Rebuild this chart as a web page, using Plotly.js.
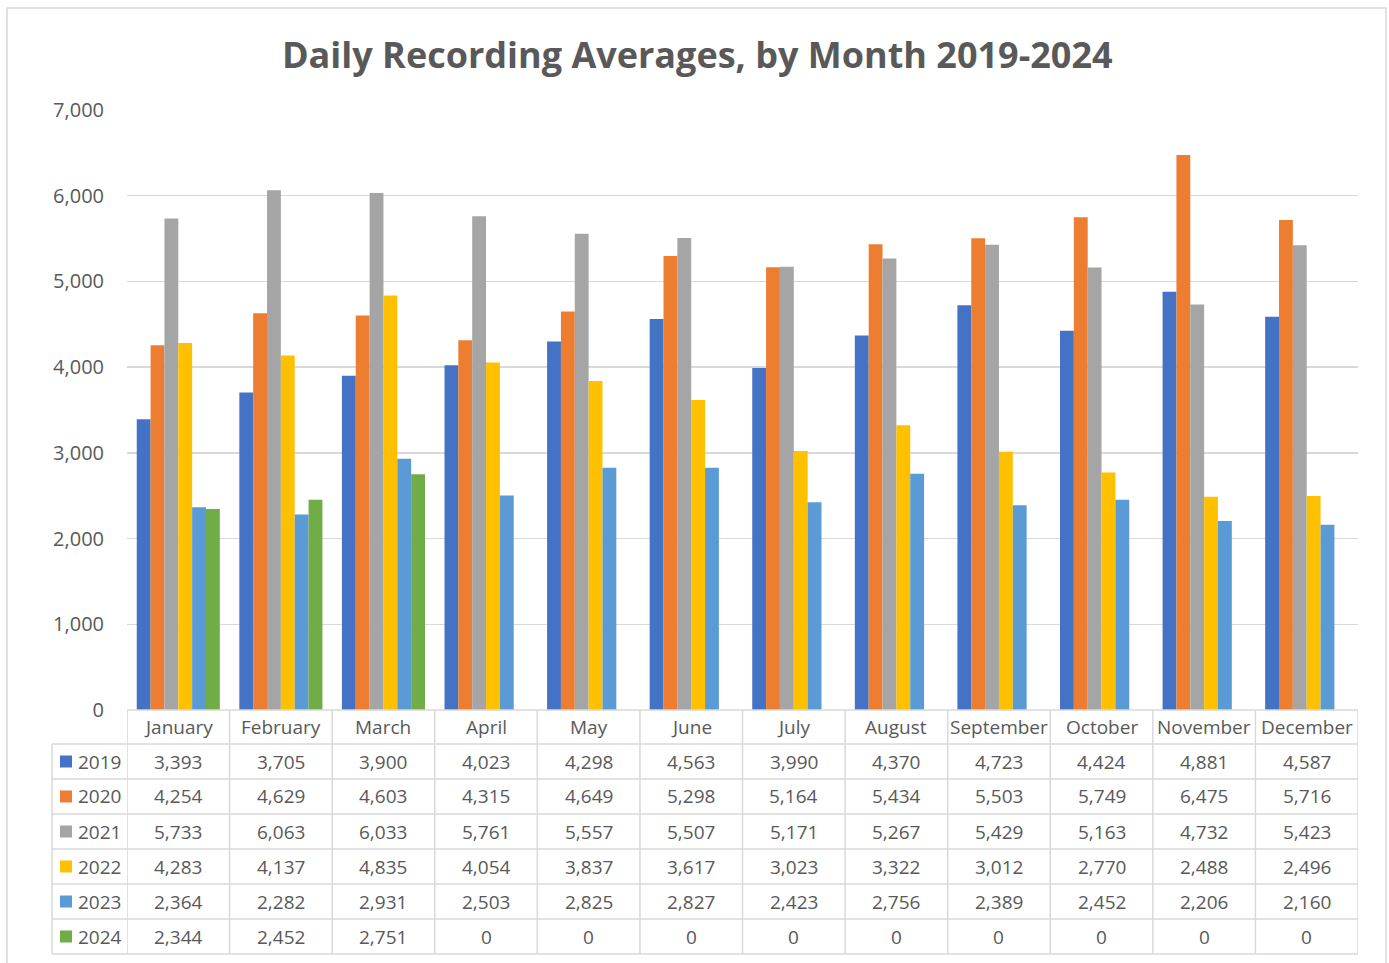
<!DOCTYPE html>
<html>
<head>
<meta charset="utf-8">
<script src="https://cdn.plot.ly/plotly-3.0.1.min.js"></script>
<style>html,body{margin:0;padding:0;background:#fff;}#chart{width:1389px;height:963px;}</style>
</head>
<body>
<div id="chart"></div>
<script>
const months = ["January","February","March","April","May","June","July","August","September","October","November","December"];
const years = ["2019","2020","2021","2022","2023","2024"];
const v2019 = [3393,3705,3900,4023,4298,4563,3990,4370,4723,4424,4881,4587];
const v2020 = [4254,4629,4603,4315,4649,5298,5164,5434,5503,5749,6475,5716];
const v2021 = [5733,6063,6033,5761,5557,5507,5171,5267,5429,5163,4732,5423];
const v2022 = [4283,4137,4835,4054,3837,3617,3023,3322,3012,2770,2488,2496];
const v2023 = [2364,2282,2931,2503,2825,2827,2423,2756,2389,2452,2206,2160];
const v2024 = [2344,2452,2751,0,0,0,0,0,0,0,0,0];
const colors = ["#4472C4","#ED7D31","#A5A5A5","#FFC000","#5B9BD5","#70AD47"];
const series = [v2019,v2020,v2021,v2022,v2023,v2024];

const W = 1389, H = 963;
const L = 127, R = 31, T = 110, B = 253;
const plotW = W - L - R, plotH = H - T - B;
const px = x => (x - L) / plotW;          // pixel -> paper x
const py = y => (H - B - y) / plotH;      // pixel -> paper y

const FONT = "Open Sans, Noto Sans, sans-serif";
const TXT = "#595959";
const GRID = "#d9d9d9";

const traces = series.map((vals, i) => ({
  type: "bar",
  name: years[i],
  x: months.map((m, k) => k),
  y: vals,
  marker: {color: colors[i], line: {width: 0}},
  hoverinfo: "skip"
}));

const shapes = [];
const annotations = [];

// outer chart border
shapes.push({type:"rect", xref:"paper", yref:"paper", x0:px(7), x1:px(1386), y0:py(8), y1:py(975),
  line:{color:GRID, width:1.5}, fillcolor:"rgba(0,0,0,0)", layer:"below"});

// table geometry (pixels)
const rowY = [710, 744, 779, 814, 849, 884, 919, 954];
const tableLeft = 52;
// horizontal lines
shapes.push({type:"line", xref:"x", yref:"paper", x0:-0.5, x1:11.5, y0:py(rowY[0]), y1:py(rowY[0]), line:{color:GRID, width:1.5}});
for (let r = 1; r < rowY.length; r++) {
  shapes.push({type:"line", xref:"paper", yref:"paper", x0:px(tableLeft), x1:1, y0:py(rowY[r]), y1:py(rowY[r]), line:{color:GRID, width:1.5}});
}
// vertical lines
for (let k = 0; k <= months.length; k++) {
  shapes.push({type:"line", xref:"x", yref:"paper", x0:k-0.5, x1:k-0.5, y0:py(rowY[0]), y1:py(rowY[rowY.length-1]), line:{color:GRID, width:1.5}});
}
shapes.push({type:"line", xref:"paper", yref:"paper", x0:px(tableLeft), x1:px(tableLeft), y0:py(rowY[1]), y1:py(rowY[rowY.length-1]), line:{color:GRID, width:1.5}});

// header text
months.forEach((m, k) => {
  annotations.push({xref:"x", yref:"paper", x:k, y:py((rowY[0]+rowY[1])/2), text:m, showarrow:false,
    xanchor:"center", yanchor:"middle", font:{family:FONT, size:19, color:TXT}});
});
// body rows
const fmt = v => v.toLocaleString("en-US");
series.forEach((vals, i) => {
  const yc = py((rowY[i+1] + rowY[i+2]) / 2);
  // legend key
  shapes.push({type:"rect", xref:"paper", yref:"paper", x0:px(60), x1:px(72), y0:yc + 6/plotH, y1:yc - 6/plotH,
    fillcolor:colors[i], line:{width:0}});
  annotations.push({xref:"paper", yref:"paper", x:px(76), y:yc, text:years[i], showarrow:false,
    xanchor:"left", yanchor:"middle", font:{family:FONT, size:19, color:TXT}});
  vals.forEach((v, k) => {
    annotations.push({xref:"x", yref:"paper", x:k, y:yc, text:fmt(v), showarrow:false,
      xanchor:"center", yanchor:"middle", font:{family:FONT, size:19, color:TXT}});
  });
});

const layout = {
  width: W, height: H,
  margin: {l:L, r:R, t:T, b:B, pad:0},
  paper_bgcolor: "#fff", plot_bgcolor: "#fff",
  title: {text:"Daily Recording Averages, by Month 2019-2024", x:0.502, xref:"container", xanchor:"center",
    y: 1 - 55/H, yref:"container", yanchor:"middle", font:{family:FONT, size:36, color:TXT, weight:"bold"}},
  barmode: "group", bargap: 0.19, bargroupgap: 0,
  showlegend: false,
  xaxis: {range:[-0.5, 11.5], showticklabels:false, showgrid:false, zeroline:false, showline:false, ticks:"", fixedrange:true},
  yaxis: {range:[0, 7000], dtick:1000, tickformat:",", showgrid:true, gridcolor:GRID, gridwidth:1.5,
    zeroline:false, showline:false, ticks:"", ticklabelstandoff:22,
    tickfont:{family:FONT, size:20, color:TXT}, fixedrange:true},
  shapes: shapes,
  annotations: annotations
};

Plotly.newPlot("chart", traces, layout, {displayModeBar:false, staticPlot:true});
</script>
</body>
</html>
